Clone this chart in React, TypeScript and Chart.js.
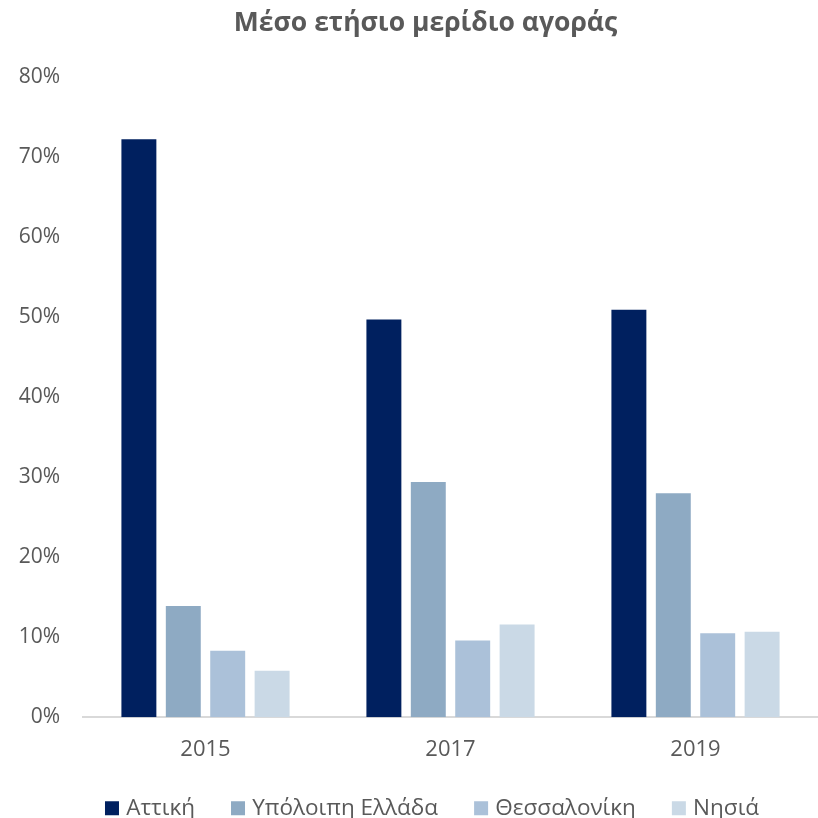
import React, { useEffect, useRef } from "react";
import { Chart, registerables } from "chart.js";

Chart.register(...registerables);

const TITLE = "Μέσο ετήσιο μερίδιο αγοράς";
const YEARS = ["2015", "2017", "2019"];
const SERIES_NAMES = ["Αττική", "Υπόλοιπη Ελλάδα", "Θεσσαλονίκη", "Νησιά"];
const ATTIKI = [0.722, 0.497, 0.509];
const YPOLOIPI = [0.139, 0.294, 0.280];
const THESSALONIKI = [0.083, 0.096, 0.105];
const NISIA = [0.058, 0.116, 0.107];
const COLORS = ["#00205F", "#8EAAC3", "#ABC1D9", "#CAD9E6"];
const Y_MAX = 0.8;
const Y_STEP = 0.1;

const FONT = "'Open Sans', 'Noto Sans', sans-serif";
const TEXT = "#595959";

const shiftBlocks = {
  id: "shiftBlocks",
  afterLayout(chart: any) {
    const t = chart.titleBlock;
    if (t) {
      t.left += 33;
      t.width = t.right - t.left;
    }
    const l = chart.legend;
    if (l) {
      l.left += 50;
      l.width = l.right - l.left;
    }
  },
};

export default function App() {
  const ref = useRef<HTMLCanvasElement | null>(null);

  useEffect(() => {
    if (!ref.current) return;
    const values = [ATTIKI, YPOLOIPI, THESSALONIKI, NISIA];
    const chart = new Chart(ref.current, {
      type: "bar",
      data: {
        labels: YEARS,
        datasets: SERIES_NAMES.map((name, i) => ({
          label: name,
          data: values[i],
          backgroundColor: COLORS[i],
          borderWidth: 0,
          categoryPercentage: 0.725,
          barPercentage: 0.787,
        })),
      },
      plugins: [shiftBlocks],
      options: {
        animation: false,
        responsive: false,
        maintainAspectRatio: false,
        layout: { padding: { left: 0, right: 0, top: 0, bottom: -11.5 } },
        plugins: {
          title: {
            display: true,
            text: TITLE,
            color: TEXT,
            font: { family: FONT, size: 26.5, weight: "bold" },
            padding: { top: 8, bottom: 37 },
          },
          legend: {
            position: "bottom",
            labels: {
              color: TEXT,
              font: { family: FONT, size: 22.5 },
              boxWidth: 6,
              boxHeight: 6,
              padding: 40,
              generateLabels: (chart: any) => {
                const items = Chart.defaults.plugins.legend.labels.generateLabels(chart);
                return items.map((it: any) => ({
                  ...it,
                  lineWidth: 8,
                  strokeStyle: it.fillStyle,
                  lineJoin: "miter",
                }));
              },
            },
          },
          tooltip: { enabled: false },
        },
        scales: {
          x: {
            grid: { display: false },
            border: { display: true, color: "#D9D9D9", width: 2 },
            ticks: {
              color: TEXT,
              font: { family: FONT, size: 22 },
              padding: 11,
            },
            afterFit: (scale: any) => {
              scale.height -= 16.7;
            },
          },
          y: {
            min: 0,
            max: Y_MAX,
            grid: { display: false },
            border: { display: false },
            ticks: {
              stepSize: Y_STEP,
              color: TEXT,
              font: { family: FONT, size: 21 },
              padding: 15,
              callback: (v: any) => Math.round(Number(v) * 100) + "%",
            },
            afterFit: (scale: any) => {
              scale.width = 83;
            },
          },
        },
      },
    });
    return () => chart.destroy();
  }, []);

  return (
    <div style={{ position: "fixed", left: 0, top: 0, width: 818, height: 818, background: "#fff" }}>
      <canvas ref={ref} width={818} height={818} style={{ width: 818, height: 818 }} />
    </div>
  );
}
